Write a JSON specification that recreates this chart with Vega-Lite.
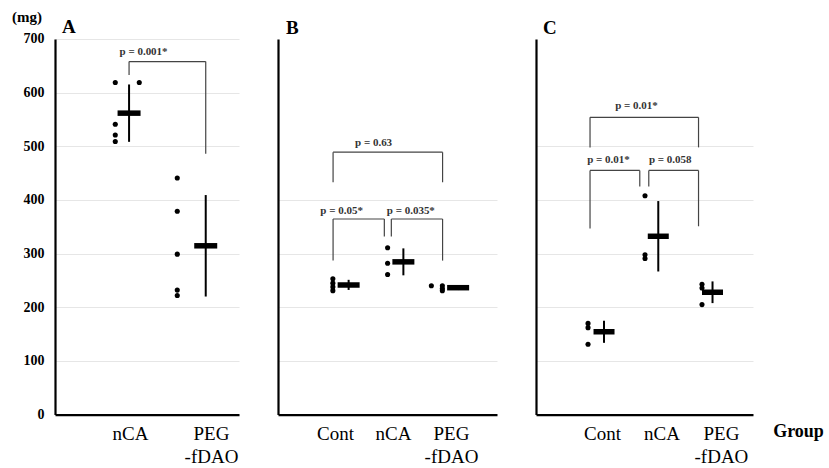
{
  "$schema": "https://vega.github.io/schema/vega-lite/v6.json",
  "background": "white",
  "padding": {"left": 11, "top": 10, "right": 0, "bottom": 0},
  "bounds": "flush",
  "spacing": 39,
  "config": {
    "view": {"stroke": null},
    "font": "Liberation Serif"
  },
  "datasets": {
    "A": [
      {"group": "nCA", "weight": 619}, {"group": "nCA", "weight": 619}, {"group": "nCA", "weight": 541}, {"group": "nCA", "weight": 521}, {"group": "nCA", "weight": 509},
      {"group": "PEG-fDAO", "weight": 441}, {"group": "PEG-fDAO", "weight": 379}, {"group": "PEG-fDAO", "weight": 299}, {"group": "PEG-fDAO", "weight": 232}, {"group": "PEG-fDAO", "weight": 222}
    ],
    "B": [
      {"group": "Cont", "weight": 253}, {"group": "Cont", "weight": 245}, {"group": "Cont", "weight": 238}, {"group": "Cont", "weight": 231},
      {"group": "nCA", "weight": 311}, {"group": "nCA", "weight": 282}, {"group": "nCA", "weight": 261},
      {"group": "PEG-fDAO", "weight": 240}, {"group": "PEG-fDAO", "weight": 240}, {"group": "PEG-fDAO", "weight": 235}, {"group": "PEG-fDAO", "weight": 231}
    ],
    "C": [
      {"group": "Cont", "weight": 170}, {"group": "Cont", "weight": 162}, {"group": "Cont", "weight": 131},
      {"group": "nCA", "weight": 408}, {"group": "nCA", "weight": 298}, {"group": "nCA", "weight": 291},
      {"group": "PEG-fDAO", "weight": 243}, {"group": "PEG-fDAO", "weight": 236}, {"group": "PEG-fDAO", "weight": 205}
    ],
    "brA": [
      {"id": "ab", "label": "p = 0.001*", "from": "nCA", "to": "PEG-fDAO", "top": 658, "fromEnd": 633, "toEnd": 486}
    ],
    "brB": [
      {"id": "big", "label": "p = 0.63", "from": "Cont", "to": "PEG-fDAO", "top": 489, "fromEnd": 433, "toEnd": 433},
      {"id": "l", "label": "p = 0.05*", "from": "Cont", "to": "nCA", "top": 364.5, "fromEnd": 287, "toEnd": 332},
      {"id": "r", "label": "p = 0.035*", "from": "nCA", "to": "PEG-fDAO", "top": 364.5, "fromEnd": 332, "toEnd": 287}
    ],
    "brC": [
      {"id": "big", "label": "p = 0.01*", "from": "Cont", "to": "PEG-fDAO", "top": 554, "fromEnd": 498, "toEnd": 498},
      {"id": "l", "label": "p = 0.01*", "from": "Cont", "to": "nCA", "top": 455, "fromEnd": 347, "toEnd": 425},
      {"id": "r", "label": "p = 0.058", "from": "nCA", "to": "PEG-fDAO", "top": 455, "fromEnd": 425, "toEnd": 351}
    ]
  },
  "hconcat": [
    {
      "width": 184,
      "height": 375.6,
      "title": {"text": "A", "anchor": "start", "frame": "group", "dx": 7, "offset": -42, "baseline": "alphabetic", "font": "Liberation Serif", "fontSize": 19, "fontWeight": "bold", "color": "black"},
      "resolve": {"scale": {"x": "independent"}},
      "layer": [
        {
          "data": {"name": "A"},
          "mark": {"type": "point", "opacity": 0},
          "encoding": {
            "x": {"field": "group", "type": "nominal", "scale": {"type": "point", "domain": ["nCA", "PEG-fDAO"], "padding": 0.636, "align": 0.728},
              "axis": {"title": null, "ticks": false, "labelAngle": 0, "labelFont": "Liberation Serif", "labelFontSize": 19, "labelColor": "black", "labelPadding": 10, "labelLineHeight": 23, "labelOverlap": false, "domainColor": "black", "domainWidth": 2.2, "grid": false,
                "labelExpr": "datum.value == 'PEG-fDAO' ? ['PEG', '-fDAO'] : datum.value"}},
            "y": {"field": "weight", "type": "quantitative", "title": "(mg)", "scale": {"domain": [0, 700], "nice": false, "zero": true},
              "axis": {"values": [0, 100, 200, 300, 400, 500, 600, 700], "title": "(mg)", "titleAngle": 0, "titleX": -28.5, "titleY": -17, "titleAlign": "center", "titleBaseline": "alphabetic", "titleFont": "Liberation Serif", "titleFontSize": 15, "titleFontWeight": "bold", "titleColor": "black",
                "labelFont": "Liberation Serif", "labelFontSize": 14, "labelFontWeight": "bold", "labelColor": "black", "labelPadding": 11, "ticks": false, "domainColor": "black", "domainWidth": 2.2, "grid": true, "gridColor": "#e6e6e6", "gridWidth": 1}}
          }
        },
        {
          "data": {"name": "A"},
          "encoding": {
            "x": {"field": "group", "type": "nominal", "scale": {"type": "point", "domain": ["nCA", "PEG-fDAO"], "padding": 0.7, "align": 0.69}, "axis": null}
          },
          "layer": [
            {"mark": {"type": "errorbar", "extent": "stdev", "thickness": 2, "color": "black"}, "encoding": {"y": {"field": "weight", "type": "quantitative", "title": "(mg)"}}},
            {"mark": {"type": "tick", "thickness": 5.5, "size": 23, "color": "black", "opacity": 1}, "encoding": {"y": {"aggregate": "mean", "field": "weight", "type": "quantitative", "title": "(mg)"}}}
          ]
        },
        {
          "data": {"name": "A"},
          "transform": [{"window": [{"op": "row_number", "as": "tie"}], "groupby": ["group", "weight"]}],
          "encoding": {
            "x": {"field": "group", "type": "nominal", "scale": {"type": "point", "domain": ["nCA", "PEG-fDAO"], "padding": 0.984, "align": 0.494}, "axis": null},
            "y": {"field": "weight", "type": "quantitative", "title": "(mg)"}
          },
          "layer": [
            {"transform": [{"filter": "datum.tie == 1"}], "mark": {"type": "circle", "size": 26, "color": "black", "opacity": 1}},
            {"transform": [{"filter": "datum.tie == 2"}], "mark": {"type": "circle", "size": 26, "color": "black", "opacity": 1, "xOffset": 24}}
          ]
        },
        {
          "data": {"name": "brA"},
          "layer": [
            {"mark": {"type": "rule", "color": "#444", "strokeWidth": 1.2},
              "encoding": {"x": {"field": "from", "type": "nominal", "scale": {"type": "point", "domain": ["nCA", "PEG-fDAO"], "padding": 0.7, "align": 0.69}, "axis": null}, "x2": {"field": "to"}, "y": {"field": "top", "type": "quantitative", "title": "(mg)"}}},
            {"mark": {"type": "rule", "color": "#444", "strokeWidth": 1.2},
              "encoding": {"x": {"field": "from", "type": "nominal", "scale": {"type": "point", "domain": ["nCA", "PEG-fDAO"], "padding": 0.7, "align": 0.69}, "axis": null}, "y": {"field": "top", "type": "quantitative", "title": "(mg)"}, "y2": {"field": "fromEnd"}}},
            {"mark": {"type": "rule", "color": "#444", "strokeWidth": 1.2},
              "encoding": {"x": {"field": "to", "type": "nominal", "scale": {"type": "point", "domain": ["nCA", "PEG-fDAO"], "padding": 0.7, "align": 0.69}, "axis": null}, "y": {"field": "top", "type": "quantitative", "title": "(mg)"}, "y2": {"field": "toEnd"}}},
            {"mark": {"type": "text", "dx": 14.5, "dy": -7, "align": "center", "baseline": "alphabetic", "font": "Liberation Serif", "fontSize": 11, "fontWeight": "bold", "color": "#333"},
              "encoding": {"x": {"field": "from", "type": "nominal", "scale": {"type": "point", "domain": ["nCA", "PEG-fDAO"], "padding": 0.7, "align": 0.69}, "axis": null}, "y": {"field": "top", "type": "quantitative", "title": "(mg)"}, "text": {"field": "label"}}}
          ]
        }
      ]
    },
    {
      "width": 219,
      "height": 375.6,
      "title": {"text": "B", "anchor": "start", "frame": "group", "dx": 8, "offset": -14, "baseline": "alphabetic", "font": "Liberation Serif", "fontSize": 19, "fontWeight": "bold", "color": "black"},
      "resolve": {"scale": {"x": "independent"}},
      "layer": [
        {
          "data": {"name": "B"},
          "mark": {"type": "point", "opacity": 0},
          "encoding": {
            "x": {"field": "group", "type": "nominal", "scale": {"type": "point", "domain": ["Cont", "nCA", "PEG-fDAO"], "padding": 0.888, "align": 0.553},
              "axis": {"title": null, "ticks": false, "labelAngle": 0, "labelFont": "Liberation Serif", "labelFontSize": 19, "labelColor": "black", "labelPadding": 10, "labelLineHeight": 23, "labelOverlap": false, "domainColor": "black", "domainWidth": 2.2, "grid": false,
                "labelExpr": "datum.value == 'PEG-fDAO' ? ['PEG', '-fDAO'] : datum.value"}},
            "y": {"field": "weight", "type": "quantitative", "title": null, "scale": {"domain": [0, 700], "nice": false, "zero": true},
              "axis": {"values": [100, 200, 300, 400], "title": null, "labels": false, "ticks": false, "domainColor": "black", "domainWidth": 2.2, "grid": true, "gridColor": "#e6e6e6", "gridWidth": 1}}
          }
        },
        {
          "data": {"name": "B"},
          "encoding": {
            "x": {"field": "group", "type": "nominal", "scale": {"type": "point", "domain": ["Cont", "nCA", "PEG-fDAO"], "padding": 1.009, "align": 0.645}, "axis": null}
          },
          "layer": [
            {"mark": {"type": "errorbar", "extent": "stdev", "thickness": 2, "color": "black"}, "encoding": {"y": {"field": "weight", "type": "quantitative", "title": null}}},
            {"mark": {"type": "tick", "thickness": 5.5, "size": 22, "color": "black", "opacity": 1}, "encoding": {"y": {"aggregate": "mean", "field": "weight", "type": "quantitative", "title": null}}}
          ]
        },
        {
          "data": {"name": "B"},
          "transform": [{"window": [{"op": "row_number", "as": "tie"}], "groupby": ["group", "weight"]}],
          "encoding": {
            "x": {"field": "group", "type": "nominal", "scale": {"type": "point", "domain": ["Cont", "nCA", "PEG-fDAO"], "padding": 1.004, "align": 0.501}, "axis": null},
            "y": {"field": "weight", "type": "quantitative", "title": null}
          },
          "layer": [
            {"transform": [{"filter": "datum.tie == 1"}], "mark": {"type": "circle", "size": 26, "color": "black", "opacity": 1}},
            {"transform": [{"filter": "datum.tie == 2"}], "mark": {"type": "circle", "size": 26, "color": "black", "opacity": 1, "xOffset": -11}}
          ]
        },
        {
          "data": {"name": "brB"},
          "layer": [
            {
              "transform": [{"filter": "datum.id == 'big'"}],
              "layer": [
                {"mark": {"type": "rule", "color": "#444", "strokeWidth": 1.2},
                  "encoding": {"x": {"field": "from", "type": "nominal", "scale": {"type": "point", "domain": ["Cont", "nCA", "PEG-fDAO"], "padding": 1.033, "align": 0.503}, "axis": null}, "x2": {"field": "to"}, "y": {"field": "top", "type": "quantitative", "title": null}}},
                {"mark": {"type": "rule", "color": "#444", "strokeWidth": 1.2},
                  "encoding": {"x": {"field": "from", "type": "nominal", "scale": {"type": "point", "domain": ["Cont", "nCA", "PEG-fDAO"], "padding": 1.033, "align": 0.503}, "axis": null}, "y": {"field": "top", "type": "quantitative", "title": null}, "y2": {"field": "fromEnd"}}},
                {"mark": {"type": "rule", "color": "#444", "strokeWidth": 1.2},
                  "encoding": {"x": {"field": "to", "type": "nominal", "scale": {"type": "point", "domain": ["Cont", "nCA", "PEG-fDAO"], "padding": 1.033, "align": 0.503}, "axis": null}, "y": {"field": "top", "type": "quantitative", "title": null}, "y2": {"field": "toEnd"}}},
                {"mark": {"type": "text", "dx": 40.5, "dy": -6, "align": "center", "baseline": "alphabetic", "font": "Liberation Serif", "fontSize": 11, "fontWeight": "bold", "color": "#333"},
                  "encoding": {"x": {"field": "from", "type": "nominal", "scale": {"type": "point", "domain": ["Cont", "nCA", "PEG-fDAO"], "padding": 1.033, "align": 0.503}, "axis": null}, "y": {"field": "top", "type": "quantitative", "title": null}, "text": {"field": "label"}}}
              ]
            },
            {
              "transform": [{"filter": "datum.id == 'l'"}],
              "layer": [
                {"mark": {"type": "rule", "color": "#444", "strokeWidth": 1.2, "x2Offset": -3.5},
                  "encoding": {"x": {"field": "from", "type": "nominal", "scale": {"type": "point", "domain": ["Cont", "nCA", "PEG-fDAO"], "padding": 1.033, "align": 0.503}, "axis": null}, "x2": {"field": "to"}, "y": {"field": "top", "type": "quantitative", "title": null}}},
                {"mark": {"type": "rule", "color": "#444", "strokeWidth": 1.2},
                  "encoding": {"x": {"field": "from", "type": "nominal", "scale": {"type": "point", "domain": ["Cont", "nCA", "PEG-fDAO"], "padding": 1.033, "align": 0.503}, "axis": null}, "y": {"field": "top", "type": "quantitative", "title": null}, "y2": {"field": "fromEnd"}}},
                {"mark": {"type": "rule", "color": "#444", "strokeWidth": 1.2, "xOffset": -3.5},
                  "encoding": {"x": {"field": "to", "type": "nominal", "scale": {"type": "point", "domain": ["Cont", "nCA", "PEG-fDAO"], "padding": 1.033, "align": 0.503}, "axis": null}, "y": {"field": "top", "type": "quantitative", "title": null}, "y2": {"field": "toEnd"}}},
                {"mark": {"type": "text", "dx": 8.5, "dy": -5, "align": "center", "baseline": "alphabetic", "font": "Liberation Serif", "fontSize": 11, "fontWeight": "bold", "color": "#333"},
                  "encoding": {"x": {"field": "from", "type": "nominal", "scale": {"type": "point", "domain": ["Cont", "nCA", "PEG-fDAO"], "padding": 1.033, "align": 0.503}, "axis": null}, "y": {"field": "top", "type": "quantitative", "title": null}, "text": {"field": "label"}}}
              ]
            },
            {
              "transform": [{"filter": "datum.id == 'r'"}],
              "layer": [
                {"mark": {"type": "rule", "color": "#444", "strokeWidth": 1.2, "xOffset": 3.5},
                  "encoding": {"x": {"field": "from", "type": "nominal", "scale": {"type": "point", "domain": ["Cont", "nCA", "PEG-fDAO"], "padding": 1.033, "align": 0.503}, "axis": null}, "x2": {"field": "to"}, "y": {"field": "top", "type": "quantitative", "title": null}}},
                {"mark": {"type": "rule", "color": "#444", "strokeWidth": 1.2, "xOffset": 3.5},
                  "encoding": {"x": {"field": "from", "type": "nominal", "scale": {"type": "point", "domain": ["Cont", "nCA", "PEG-fDAO"], "padding": 1.033, "align": 0.503}, "axis": null}, "y": {"field": "top", "type": "quantitative", "title": null}, "y2": {"field": "fromEnd"}}},
                {"mark": {"type": "rule", "color": "#444", "strokeWidth": 1.2},
                  "encoding": {"x": {"field": "to", "type": "nominal", "scale": {"type": "point", "domain": ["Cont", "nCA", "PEG-fDAO"], "padding": 1.033, "align": 0.503}, "axis": null}, "y": {"field": "top", "type": "quantitative", "title": null}, "y2": {"field": "toEnd"}}},
                {"mark": {"type": "text", "dx": 23, "dy": -5, "align": "center", "baseline": "alphabetic", "font": "Liberation Serif", "fontSize": 11, "fontWeight": "bold", "color": "#333"},
                  "encoding": {"x": {"field": "from", "type": "nominal", "scale": {"type": "point", "domain": ["Cont", "nCA", "PEG-fDAO"], "padding": 1.033, "align": 0.503}, "axis": null}, "y": {"field": "top", "type": "quantitative", "title": null}, "text": {"field": "label"}}}
              ]
            }
          ]
        }
      ]
    },
    {
      "width": 217,
      "height": 375.6,
      "title": {"text": "C", "anchor": "start", "frame": "group", "dx": 7, "offset": -14, "baseline": "alphabetic", "font": "Liberation Serif", "fontSize": 19, "fontWeight": "bold", "color": "black"},
      "resolve": {"scale": {"x": "independent"}},
      "layer": [
        {
          "data": {"name": "C"},
          "mark": {"type": "point", "opacity": 0},
          "encoding": {
            "x": {"field": "group", "type": "nominal", "scale": {"type": "point", "domain": ["Cont", "nCA", "PEG-fDAO"], "padding": 0.824, "align": 0.673},
              "axis": {"title": "Group", "titleX": 262, "titleY": 22, "titleAlign": "center", "titleBaseline": "alphabetic", "titleFont": "Liberation Serif", "titleFontSize": 18, "titleFontWeight": "bold", "titleColor": "black",
                "ticks": false, "labelAngle": 0, "labelFont": "Liberation Serif", "labelFontSize": 19, "labelColor": "black", "labelPadding": 10, "labelLineHeight": 23, "labelOverlap": false, "domainColor": "black", "domainWidth": 2.2, "grid": false,
                "labelExpr": "datum.value == 'PEG-fDAO' ? ['PEG', '-fDAO'] : datum.value"}},
            "y": {"field": "weight", "type": "quantitative", "title": null, "scale": {"domain": [0, 700], "nice": false, "zero": true},
              "axis": {"values": [100, 200, 300, 400, 500], "title": null, "labels": false, "ticks": false, "domainColor": "black", "domainWidth": 2.2, "grid": true, "gridColor": "#e6e6e6", "gridWidth": 1}}
          }
        },
        {
          "data": {"name": "C"},
          "encoding": {
            "x": {"field": "group", "type": "nominal", "scale": {"type": "point", "domain": ["Cont", "nCA", "PEG-fDAO"], "padding": 1.028, "align": 0.627}, "axis": null}
          },
          "layer": [
            {"mark": {"type": "errorbar", "extent": "stdev", "thickness": 2, "color": "black"}, "encoding": {"y": {"field": "weight", "type": "quantitative", "title": null}}},
            {"mark": {"type": "tick", "thickness": 5.5, "size": 21, "color": "black", "opacity": 1}, "encoding": {"y": {"aggregate": "mean", "field": "weight", "type": "quantitative", "title": null}}}
          ]
        },
        {
          "data": {"name": "C"},
          "encoding": {
            "x": {"field": "group", "type": "nominal", "scale": {"type": "point", "domain": ["Cont", "nCA", "PEG-fDAO"], "padding": 0.904, "align": 0.505}, "axis": null},
            "y": {"field": "weight", "type": "quantitative", "title": null}
          },
          "mark": {"type": "circle", "size": 26, "color": "black", "opacity": 1}
        },
        {
          "data": {"name": "brC"},
          "layer": [
            {
              "transform": [{"filter": "datum.id == 'big'"}],
              "layer": [
                {"mark": {"type": "rule", "color": "#444", "strokeWidth": 1.2},
                  "encoding": {"x": {"field": "from", "type": "nominal", "scale": {"type": "point", "domain": ["Cont", "nCA", "PEG-fDAO"], "padding": 1.0, "align": 0.498}, "axis": null}, "x2": {"field": "to"}, "y": {"field": "top", "type": "quantitative", "title": null}}},
                {"mark": {"type": "rule", "color": "#444", "strokeWidth": 1.2},
                  "encoding": {"x": {"field": "from", "type": "nominal", "scale": {"type": "point", "domain": ["Cont", "nCA", "PEG-fDAO"], "padding": 1.0, "align": 0.498}, "axis": null}, "y": {"field": "top", "type": "quantitative", "title": null}, "y2": {"field": "fromEnd"}}},
                {"mark": {"type": "rule", "color": "#444", "strokeWidth": 1.2},
                  "encoding": {"x": {"field": "to", "type": "nominal", "scale": {"type": "point", "domain": ["Cont", "nCA", "PEG-fDAO"], "padding": 1.0, "align": 0.498}, "axis": null}, "y": {"field": "top", "type": "quantitative", "title": null}, "y2": {"field": "toEnd"}}},
                {"mark": {"type": "text", "dx": 46.5, "dy": -8, "align": "center", "baseline": "alphabetic", "font": "Liberation Serif", "fontSize": 11, "fontWeight": "bold", "color": "#333"},
                  "encoding": {"x": {"field": "from", "type": "nominal", "scale": {"type": "point", "domain": ["Cont", "nCA", "PEG-fDAO"], "padding": 1.0, "align": 0.498}, "axis": null}, "y": {"field": "top", "type": "quantitative", "title": null}, "text": {"field": "label"}}}
              ]
            },
            {
              "transform": [{"filter": "datum.id == 'l'"}],
              "layer": [
                {"mark": {"type": "rule", "color": "#444", "strokeWidth": 1.2, "x2Offset": -4.5},
                  "encoding": {"x": {"field": "from", "type": "nominal", "scale": {"type": "point", "domain": ["Cont", "nCA", "PEG-fDAO"], "padding": 1.0, "align": 0.498}, "axis": null}, "x2": {"field": "to"}, "y": {"field": "top", "type": "quantitative", "title": null}}},
                {"mark": {"type": "rule", "color": "#444", "strokeWidth": 1.2},
                  "encoding": {"x": {"field": "from", "type": "nominal", "scale": {"type": "point", "domain": ["Cont", "nCA", "PEG-fDAO"], "padding": 1.0, "align": 0.498}, "axis": null}, "y": {"field": "top", "type": "quantitative", "title": null}, "y2": {"field": "fromEnd"}}},
                {"mark": {"type": "rule", "color": "#444", "strokeWidth": 1.2, "xOffset": -4.5},
                  "encoding": {"x": {"field": "to", "type": "nominal", "scale": {"type": "point", "domain": ["Cont", "nCA", "PEG-fDAO"], "padding": 1.0, "align": 0.498}, "axis": null}, "y": {"field": "top", "type": "quantitative", "title": null}, "y2": {"field": "toEnd"}}},
                {"mark": {"type": "text", "dx": 18.5, "dy": -7, "align": "center", "baseline": "alphabetic", "font": "Liberation Serif", "fontSize": 11, "fontWeight": "bold", "color": "#333"},
                  "encoding": {"x": {"field": "from", "type": "nominal", "scale": {"type": "point", "domain": ["Cont", "nCA", "PEG-fDAO"], "padding": 1.0, "align": 0.498}, "axis": null}, "y": {"field": "top", "type": "quantitative", "title": null}, "text": {"field": "label"}}}
              ]
            },
            {
              "transform": [{"filter": "datum.id == 'r'"}],
              "layer": [
                {"mark": {"type": "rule", "color": "#444", "strokeWidth": 1.2, "xOffset": 4.5},
                  "encoding": {"x": {"field": "from", "type": "nominal", "scale": {"type": "point", "domain": ["Cont", "nCA", "PEG-fDAO"], "padding": 1.0, "align": 0.498}, "axis": null}, "x2": {"field": "to"}, "y": {"field": "top", "type": "quantitative", "title": null}}},
                {"mark": {"type": "rule", "color": "#444", "strokeWidth": 1.2, "xOffset": 4.5},
                  "encoding": {"x": {"field": "from", "type": "nominal", "scale": {"type": "point", "domain": ["Cont", "nCA", "PEG-fDAO"], "padding": 1.0, "align": 0.498}, "axis": null}, "y": {"field": "top", "type": "quantitative", "title": null}, "y2": {"field": "fromEnd"}}},
                {"mark": {"type": "rule", "color": "#444", "strokeWidth": 1.2},
                  "encoding": {"x": {"field": "to", "type": "nominal", "scale": {"type": "point", "domain": ["Cont", "nCA", "PEG-fDAO"], "padding": 1.0, "align": 0.498}, "axis": null}, "y": {"field": "top", "type": "quantitative", "title": null}, "y2": {"field": "toEnd"}}},
                {"mark": {"type": "text", "dx": 26, "dy": -7, "align": "center", "baseline": "alphabetic", "font": "Liberation Serif", "fontSize": 11, "fontWeight": "bold", "color": "#333"},
                  "encoding": {"x": {"field": "from", "type": "nominal", "scale": {"type": "point", "domain": ["Cont", "nCA", "PEG-fDAO"], "padding": 1.0, "align": 0.498}, "axis": null}, "y": {"field": "top", "type": "quantitative", "title": null}, "text": {"field": "label"}}}
              ]
            }
          ]
        }
      ]
    }
  ]
}
